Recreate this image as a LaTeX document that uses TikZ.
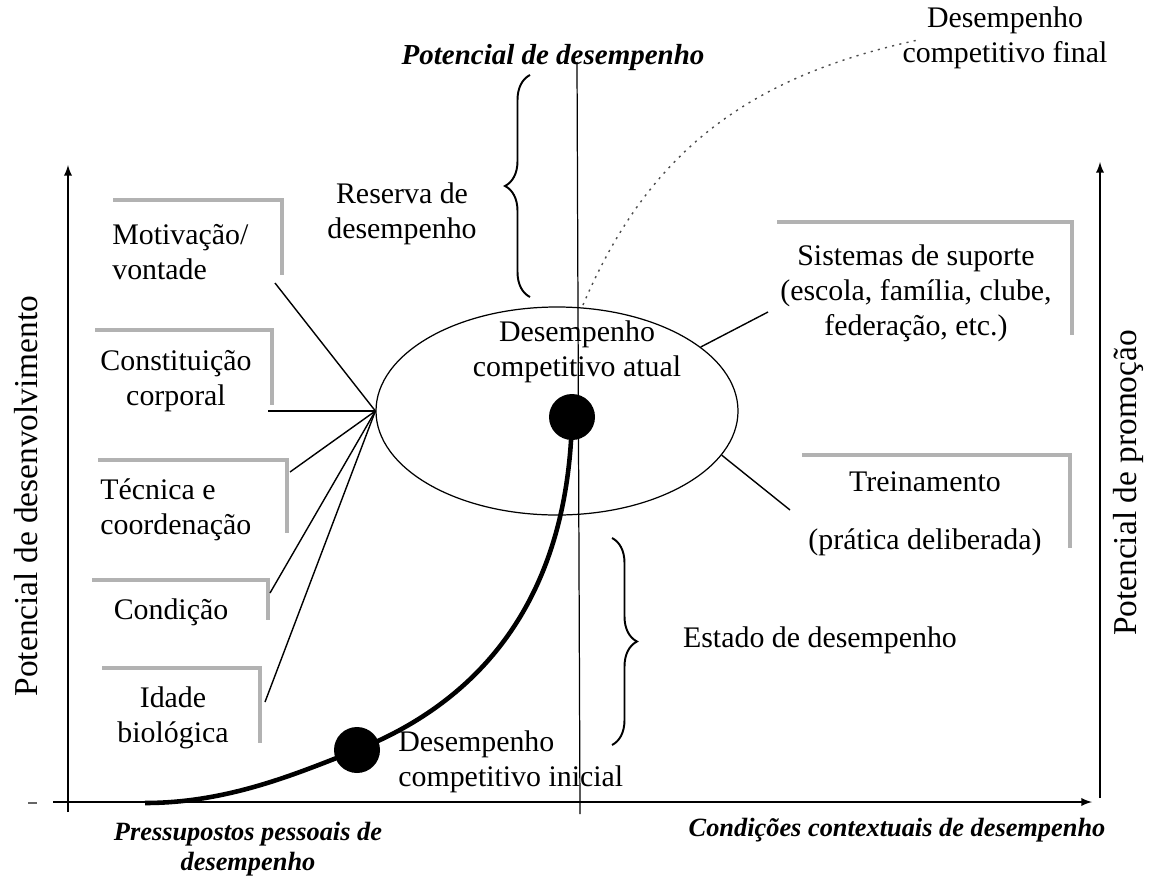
\documentclass[tikz,border=0pt]{standalone}
\usepackage{fontspec}
\setmainfont{Liberation Serif}
\usepackage{tikz}
\usetikzlibrary{shapes.geometric}
\usetikzlibrary{decorations.pathreplacing}
\tikzset{lbl/.style={font=\fontsize{17}{20}\selectfont, align=center, inner sep=0pt}}
\tikzset{ttl/.style={font=\fontsize{16.5}{19}\selectfont\bfseries\itshape, align=center, inner sep=0pt}}
\tikzset{capt/.style={font=\fontsize{15}{17}\selectfont\bfseries\itshape, align=center, inner sep=0pt}}
\tikzset{axlbl/.style={font=\fontsize{19}{22}\selectfont, rotate=90, inner sep=0pt}}
\tikzset{axisline/.style={-latex, line width=1.1pt}}
\tikzset{link/.style={line width=0.8pt}}
\tikzset{shadowline/.style={draw=black!30, line width=2.3pt}}
\tikzset{ptdot/.style={circle, fill=black, minimum size=9.2mm, inner sep=0pt}}
\tikzset{bracket/.style={decorate, decoration={brace, amplitude=5mm}, line width=1.1pt}}

\begin{document}
\begin{tikzpicture}[x=0.2mm,y=-0.2mm]
\useasboundingbox (0,0) rectangle (1149,880);

\coordinate (xs) at (53,802);
\coordinate (xe) at (1092,802);
\coordinate (ys) at (68,812);
\coordinate (ye) at (68,165);
\coordinate (rs) at (1100,798);
\coordinate (re) at (1100,162);
\coordinate (vt) at (577,62);
\coordinate (vb) at (580,814);
\coordinate (dl) at (28,803);
\coordinate (dr) at (37,803);
\draw[axisline] (xs) -- (xe);
\draw[axisline] (ys) -- (ye);
\draw[axisline] (rs) -- (re);
\draw[line width=0.7pt] (vt) -- (vb);
\draw[line width=1.2pt, black!60] (dl) -- (dr);

\node[axlbl] (ylab) at (26,496) {Potencial de desenvolvimento};
\node[axlbl] (rlab) at (1128,483) {Potencial de promoção};
\node[ttl] (ptop) at (553,58) {Potencial de desempenho};
\node[capt] (xcap) at (897,830) {Condições contextuais de desempenho};
\node[capt] (ycap) at (248,849) {Pressupostos pessoais de\\desempenho};

\node[draw, ellipse, minimum width=72.4mm, minimum height=41.6mm, inner sep=0pt, line width=0.7pt] (cur) at (557,411) {};
\node[lbl] (curtxt) at (577,352) {Desempenho\\competitivo atual};
\node[lbl] (res) at (402,214) {Reserva de\\desempenho};
\node[lbl] (fin) at (1005,38) {Desempenho\\competitivo final};
\node[lbl, align=left, anchor=west] (initxt) at (398,762) {Desempenho\\competitivo inicial};
\node[lbl] (est) at (820,640) {Estado de desempenho};

\node[lbl, align=left, anchor=west] (motxt) at (112,252) {Motivação/\\vontade};
\node[lbl] (contxt) at (176,381) {Constituição\\corporal};
\node[lbl, align=left, anchor=west] (tectxt) at (100,510) {Técnica e\\coordenação};
\node[lbl] (cndtxt) at (171,612) {Condição};
\node[lbl] (idatxt) at (173,718) {Idade\\biológica};
\node[lbl] (sistxt) at (916,293) {Sistemas de suporte\\(escola, família, clube,\\federação, etc.)};
\node[lbl] (tretxt) at (925,514) {Treinamento\\[13pt](prática deliberada)};

\foreach \xa/\ya/\xb/\yb in {113/200/282/275, 95/330/272/405, 98/460/287/533, 92/580/268/620, 102/668/260/743, 777/222/1072/335, 802/455/1070/548}
  \draw[shadowline] (\xa,\ya) -| (\xb,\yb);

\coordinate (mot) at (275,283);
\coordinate (con) at (268,411);
\coordinate (tec) at (290,472);
\coordinate (cnd) at (270,593);
\coordinate (ida) at (265,702);
\coordinate (sis) at (768,312);
\coordinate (tre) at (790,510);
\foreach \e in {mot,con,tec,cnd,ida}
  \draw[link] (cur.west) -- (\e);
\draw[link] (cur.24) -- (sis);
\draw[link] (cur.-15) -- (tre);

\coordinate (rb) at (530,297);
\coordinate (rt) at (530,75);
\coordinate (et) at (612,538);
\coordinate (eb) at (612,745);
\draw[bracket] (rb) -- (rt);
\draw[bracket] (et) -- (eb);

\coordinate (fs) at (583,305);
\coordinate (fe) at (918,40);
\draw[black!70, line width=0.8pt, dash pattern=on 1.2pt off 3pt] (fs) .. controls (650,148) and (752,76) .. (fe);

\node[ptdot] (ini) at (357,750) {};
\node[ptdot] (atu) at (572,417) {};
\coordinate (orig) at (145,803);
\draw[line width=2.6pt] (orig) .. controls (230,803) and (300,772) .. (ini.center) .. controls (470,705) and (568,610) .. (atu.center);
\end{tikzpicture}
\end{document}
